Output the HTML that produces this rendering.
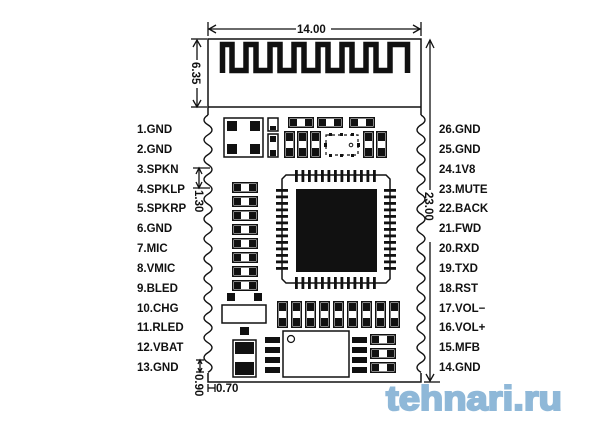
<!DOCTYPE html>
<html><head><meta charset="utf-8"><style>
html,body{margin:0;padding:0;background:#fff;}
svg{display:block;}
text{font-family:"Liberation Sans",sans-serif;font-weight:bold;font-size:11.5px;fill:#111;}
</style></head><body>
<svg width="600" height="434" viewBox="0 0 600 434" xmlns="http://www.w3.org/2000/svg">
<defs>
<g id="vc"><rect x="0.75" y="0.75" width="9.5" height="25.5" fill="#fff" stroke="#111" stroke-width="1.5"/><rect x="2" y="2" width="7" height="8" fill="#111"/><rect x="2" y="17" width="7" height="8" fill="#111"/></g>
<g id="hr"><rect x="0.75" y="0.75" width="24.5" height="9.5" fill="#fff" stroke="#111" stroke-width="1.5"/><rect x="2" y="2" width="7" height="7" fill="#111"/><rect x="17" y="2" width="7" height="7" fill="#111"/></g>
<g id="tp"><rect x="0" y="0" width="2.8" height="12" fill="#111"/></g>
<g id="lp"><rect x="0" y="0" width="12" height="2.8" fill="#111"/></g>
<g id="wl"><path d="q-9 5 0 9.9 q9 5 0 9.9"/></g>
</defs>

<!-- board outline -->
<path d="M208 115 V39 H421 V115" fill="none" stroke="#111" stroke-width="1.5"/>
<line x1="208" y1="107" x2="421" y2="107" stroke="#111" stroke-width="1.5"/>
<path d="M208 373 V382 H421 V373" fill="none" stroke="#111" stroke-width="1.5"/>
<!-- castellated edges -->
<path d="M208 115 q-8 5 0 9.9 q8 5 0 9.9 q-8 5 0 9.9 q8 5 0 9.9 q-8 5 0 9.9 q8 5 0 9.9 q-8 5 0 9.9 q8 5 0 9.9 q-8 5 0 9.9 q8 5 0 9.9 q-8 5 0 9.9 q8 5 0 9.9 q-8 5 0 9.9 q8 5 0 9.9 q-8 5 0 9.9 q8 5 0 9.9 q-8 5 0 9.9 q8 5 0 9.9 q-8 5 0 9.9 q8 5 0 9.9 q-8 5 0 9.9 q8 5 0 9.9 q-8 5 0 9.9 q8 5 0 9.9 q-8 5 0 9.9 q8 5 0 9.9" fill="none" stroke="#111" stroke-width="1.4"/>
<path d="M421 115 q8 5 0 9.9 q-8 5 0 9.9 q8 5 0 9.9 q-8 5 0 9.9 q8 5 0 9.9 q-8 5 0 9.9 q8 5 0 9.9 q-8 5 0 9.9 q8 5 0 9.9 q-8 5 0 9.9 q8 5 0 9.9 q-8 5 0 9.9 q8 5 0 9.9 q-8 5 0 9.9 q8 5 0 9.9 q-8 5 0 9.9 q8 5 0 9.9 q-8 5 0 9.9 q8 5 0 9.9 q-8 5 0 9.9 q8 5 0 9.9 q-8 5 0 9.9 q8 5 0 9.9 q-8 5 0 9.9 q8 5 0 9.9 q-8 5 0 9.9" fill="none" stroke="#111" stroke-width="1.4"/>

<!-- antenna meander -->
<path d="M222.5 73 V44.5 H232 V70.5 H246 V44.5 H256 V70.5 H270 V44.5 H280 V70.5 H294 V44.5 H304 V70.5 H318 V44.5 H328 V70.5 H342 V44.5 H352 V70.5 H366 V44.5 H376 V70.5 H390 V44.5 H407.5 V73" fill="none" stroke="#111" stroke-width="5.5" stroke-linejoin="miter"/>

<!-- dimensions -->
<g stroke="#111" stroke-width="1.3" fill="none">
<line x1="208" y1="29" x2="296" y2="29"/><line x1="331" y1="29" x2="421" y2="29"/>
<path d="M216 25 L209 29 L216 33 M413 25 L420 29 L413 33"/>
<line x1="208" y1="22" x2="208" y2="36"/><line x1="421" y1="22" x2="421" y2="36"/>
<line x1="197" y1="40" x2="197" y2="60"/><line x1="197" y1="88" x2="197" y2="107"/>
<path d="M193 47 L197 40 L201 47 M193 100 L197 107 L201 100"/>
<line x1="191" y1="39" x2="207" y2="39"/><line x1="191" y1="107" x2="207" y2="107"/>
<line x1="430" y1="40" x2="430" y2="190"/><line x1="430" y1="242" x2="430" y2="381"/>
<path d="M426 48 L430 40 L434 48 M426 374 L430 381 L434 374"/>
<line x1="424" y1="382" x2="440" y2="382"/>
<line x1="199" y1="168" x2="199" y2="188"/><path d="M196 174 L199 168 L202 174 M196 182 L199 188 L202 182"/>
<line x1="193" y1="168" x2="210" y2="168"/><line x1="193" y1="188" x2="210" y2="188"/>
<line x1="200" y1="360" x2="200" y2="372"/><path d="M198 364 L200 360 L202 364 M198 368 L200 372 L202 368"/>
<line x1="196" y1="360" x2="204" y2="360"/><line x1="196" y1="372" x2="204" y2="372"/>
<line x1="208" y1="388" x2="215" y2="388"/><line x1="208" y1="384" x2="208" y2="392"/><line x1="215" y1="384" x2="215" y2="392"/>
</g>
<text x="297" y="33" font-size="12">14.00</text>
<text transform="translate(192,62) rotate(90)" font-size="12">6.35</text>
<text transform="translate(425,192) rotate(90)" font-size="12">23.00</text>
<text transform="translate(195,190) rotate(90)" font-size="11">1.30</text>
<text transform="translate(195,374) rotate(90)" font-size="11">0.90</text>
<text x="216" y="392" font-size="11">0.70</text>

<!-- left labels -->
<text x="137" y="133">1.GND</text>
<text x="137" y="153">2.GND</text>
<text x="137" y="173">3.SPKN</text>
<text x="137" y="193">4.SPKLP</text>
<text x="137" y="212">5.SPKRP</text>
<text x="137" y="232">6.GND</text>
<text x="137" y="252">7.MIC</text>
<text x="137" y="272">8.VMIC</text>
<text x="137" y="292">9.BLED</text>
<text x="137" y="312">10.CHG</text>
<text x="137" y="331">11.RLED</text>
<text x="137" y="351">12.VBAT</text>
<text x="137" y="371">13.GND</text>
<!-- right labels -->
<text x="439" y="133">26.GND</text>
<text x="439" y="153">25.GND</text>
<text x="439" y="173">24.1V8</text>
<text x="439" y="193">23.MUTE</text>
<text x="439" y="212">22.BACK</text>
<text x="439" y="232">21.FWD</text>
<text x="439" y="252">20.RXD</text>
<text x="439" y="272">19.TXD</text>
<text x="439" y="292">18.RST</text>
<text x="439" y="312">17.VOL−</text>
<text x="439" y="331">16.VOL+</text>
<text x="439" y="351">15.MFB</text>
<text x="439" y="371">14.GND</text>

<!-- top-left crystal block -->
<rect x="224" y="118" width="39" height="39" fill="#fff" stroke="#111" stroke-width="1.5"/>
<rect x="227" y="121" width="10" height="10" fill="#111"/><rect x="250" y="121" width="10" height="10" fill="#111"/>
<rect x="227" y="144" width="10" height="10" fill="#111"/><rect x="250" y="144" width="10" height="10" fill="#111"/>
<rect x="268" y="118" width="10" height="13" fill="#fff" stroke="#111" stroke-width="1.5"/><rect x="270" y="126" width="6" height="4" fill="#111"/>
<rect x="268" y="134" width="10" height="23" fill="#fff" stroke="#111" stroke-width="1.5"/><rect x="270" y="136" width="6" height="6" fill="#111"/><rect x="270" y="150" width="6" height="6" fill="#111"/>

<!-- top components -->
<use href="#hr" x="288" y="117"/><use href="#hr" x="317" y="117"/><use href="#hr" x="349" y="117"/>
<use href="#vc" x="284" y="131"/><use href="#vc" x="297" y="131"/><use href="#vc" x="310" y="131"/>
<use href="#vc" x="363" y="131"/><use href="#vc" x="376" y="131"/>
<rect x="326" y="135" width="32" height="20" fill="none" stroke="#111" stroke-width="1.2" stroke-dasharray="3 3"/>
<rect x="329" y="133" width="3" height="3" fill="#111"/><rect x="340" y="133" width="3" height="3" fill="#111"/><rect x="351" y="133" width="3" height="3" fill="#111"/>
<rect x="329" y="154" width="3" height="3" fill="#111"/><rect x="340" y="154" width="3" height="3" fill="#111"/><rect x="351" y="154" width="3" height="3" fill="#111"/>
<rect x="324" y="143" width="3" height="4" fill="#111"/><rect x="357" y="143" width="3" height="4" fill="#111"/>
<circle cx="351" cy="145" r="1.8" fill="none" stroke="#111"/>

<!-- QFP chip -->
<path d="M286 175 H386 L390 179 V279 L386 283 H286 L282 279 V179 Z" fill="#fff" stroke="#111" stroke-width="1.5"/>
<rect x="296" y="189" width="81" height="83" fill="#111"/>
<g>
<use href="#tp" x="295" y="170"/><use href="#tp" x="301.5" y="170"/><use href="#tp" x="308" y="170"/><use href="#tp" x="314.5" y="170"/><use href="#tp" x="321" y="170"/><use href="#tp" x="327.5" y="170"/><use href="#tp" x="334" y="170"/><use href="#tp" x="340.5" y="170"/><use href="#tp" x="347" y="170"/><use href="#tp" x="353.5" y="170"/><use href="#tp" x="360" y="170"/><use href="#tp" x="366.5" y="170"/><use href="#tp" x="373" y="170"/>
<use href="#tp" x="295" y="277"/><use href="#tp" x="301.5" y="277"/><use href="#tp" x="308" y="277"/><use href="#tp" x="314.5" y="277"/><use href="#tp" x="321" y="277"/><use href="#tp" x="327.5" y="277"/><use href="#tp" x="334" y="277"/><use href="#tp" x="340.5" y="277"/><use href="#tp" x="347" y="277"/><use href="#tp" x="353.5" y="277"/><use href="#tp" x="360" y="277"/><use href="#tp" x="366.5" y="277"/><use href="#tp" x="373" y="277"/>
<use href="#lp" x="276" y="189"/><use href="#lp" x="276" y="195.5"/><use href="#lp" x="276" y="202"/><use href="#lp" x="276" y="208.5"/><use href="#lp" x="276" y="215"/><use href="#lp" x="276" y="221.5"/><use href="#lp" x="276" y="228"/><use href="#lp" x="276" y="234.5"/><use href="#lp" x="276" y="241"/><use href="#lp" x="276" y="247.5"/><use href="#lp" x="276" y="254"/><use href="#lp" x="276" y="260.5"/><use href="#lp" x="276" y="267"/>
<use href="#lp" x="384" y="189"/><use href="#lp" x="384" y="195.5"/><use href="#lp" x="384" y="202"/><use href="#lp" x="384" y="208.5"/><use href="#lp" x="384" y="215"/><use href="#lp" x="384" y="221.5"/><use href="#lp" x="384" y="228"/><use href="#lp" x="384" y="234.5"/><use href="#lp" x="384" y="241"/><use href="#lp" x="384" y="247.5"/><use href="#lp" x="384" y="254"/><use href="#lp" x="384" y="260.5"/><use href="#lp" x="384" y="267"/>
</g>

<!-- left resistor column -->
<use href="#hr" x="232" y="182"/><use href="#hr" x="232" y="196"/><use href="#hr" x="232" y="210"/><use href="#hr" x="232" y="224"/><use href="#hr" x="232" y="238"/><use href="#hr" x="232" y="252"/><use href="#hr" x="232" y="266"/><use href="#hr" x="232" y="280"/>

<!-- bottom-left -->
<rect x="227" y="293" width="8" height="8" fill="#111"/><rect x="254" y="293" width="8" height="8" fill="#111"/>
<rect x="222" y="305" width="44" height="18" fill="#fff" stroke="#111" stroke-width="1.5"/>
<rect x="240" y="327" width="9" height="8" fill="#111"/>
<rect x="233" y="340" width="23" height="37" fill="#fff" stroke="#111" stroke-width="1.5"/>
<rect x="235" y="342" width="19" height="12" fill="#111"/><rect x="235" y="362" width="19" height="13" fill="#111"/>
<!-- bottom caps row -->
<use href="#vc" x="277" y="301"/><use href="#vc" x="291" y="301"/><use href="#vc" x="305" y="301"/><use href="#vc" x="319" y="301"/><use href="#vc" x="333" y="301"/><use href="#vc" x="347" y="301"/><use href="#vc" x="361" y="301"/><use href="#vc" x="375" y="301"/><use href="#vc" x="389" y="301"/>
<!-- pads -->
<rect x="265" y="337" width="15" height="6" fill="#111"/><rect x="265" y="347" width="15" height="6" fill="#111"/><rect x="265" y="357" width="15" height="6" fill="#111"/><rect x="265" y="367" width="15" height="6" fill="#111"/>
<rect x="352" y="337" width="15" height="6" fill="#111"/><rect x="352" y="347" width="15" height="6" fill="#111"/><rect x="352" y="357" width="15" height="6" fill="#111"/><rect x="352" y="367" width="15" height="6" fill="#111"/>
<rect x="283" y="331" width="66" height="46" fill="#fff" stroke="#111" stroke-width="1.5"/>
<circle cx="291" cy="339" r="3.5" fill="none" stroke="#111" stroke-width="1.2"/>
<use href="#hr" x="370" y="334"/><use href="#hr" x="370" y="348"/><use href="#hr" x="370" y="362"/>

<!-- watermark -->
<text x="386" y="410" textLength="176" lengthAdjust="spacingAndGlyphs" style="font-size:34px;font-weight:bold;fill:#8fb8d8;stroke:#8fb8d8;stroke-width:2px;font-family:'Liberation Sans',sans-serif">tehnari.ru</text>
</svg>
</body></html>
